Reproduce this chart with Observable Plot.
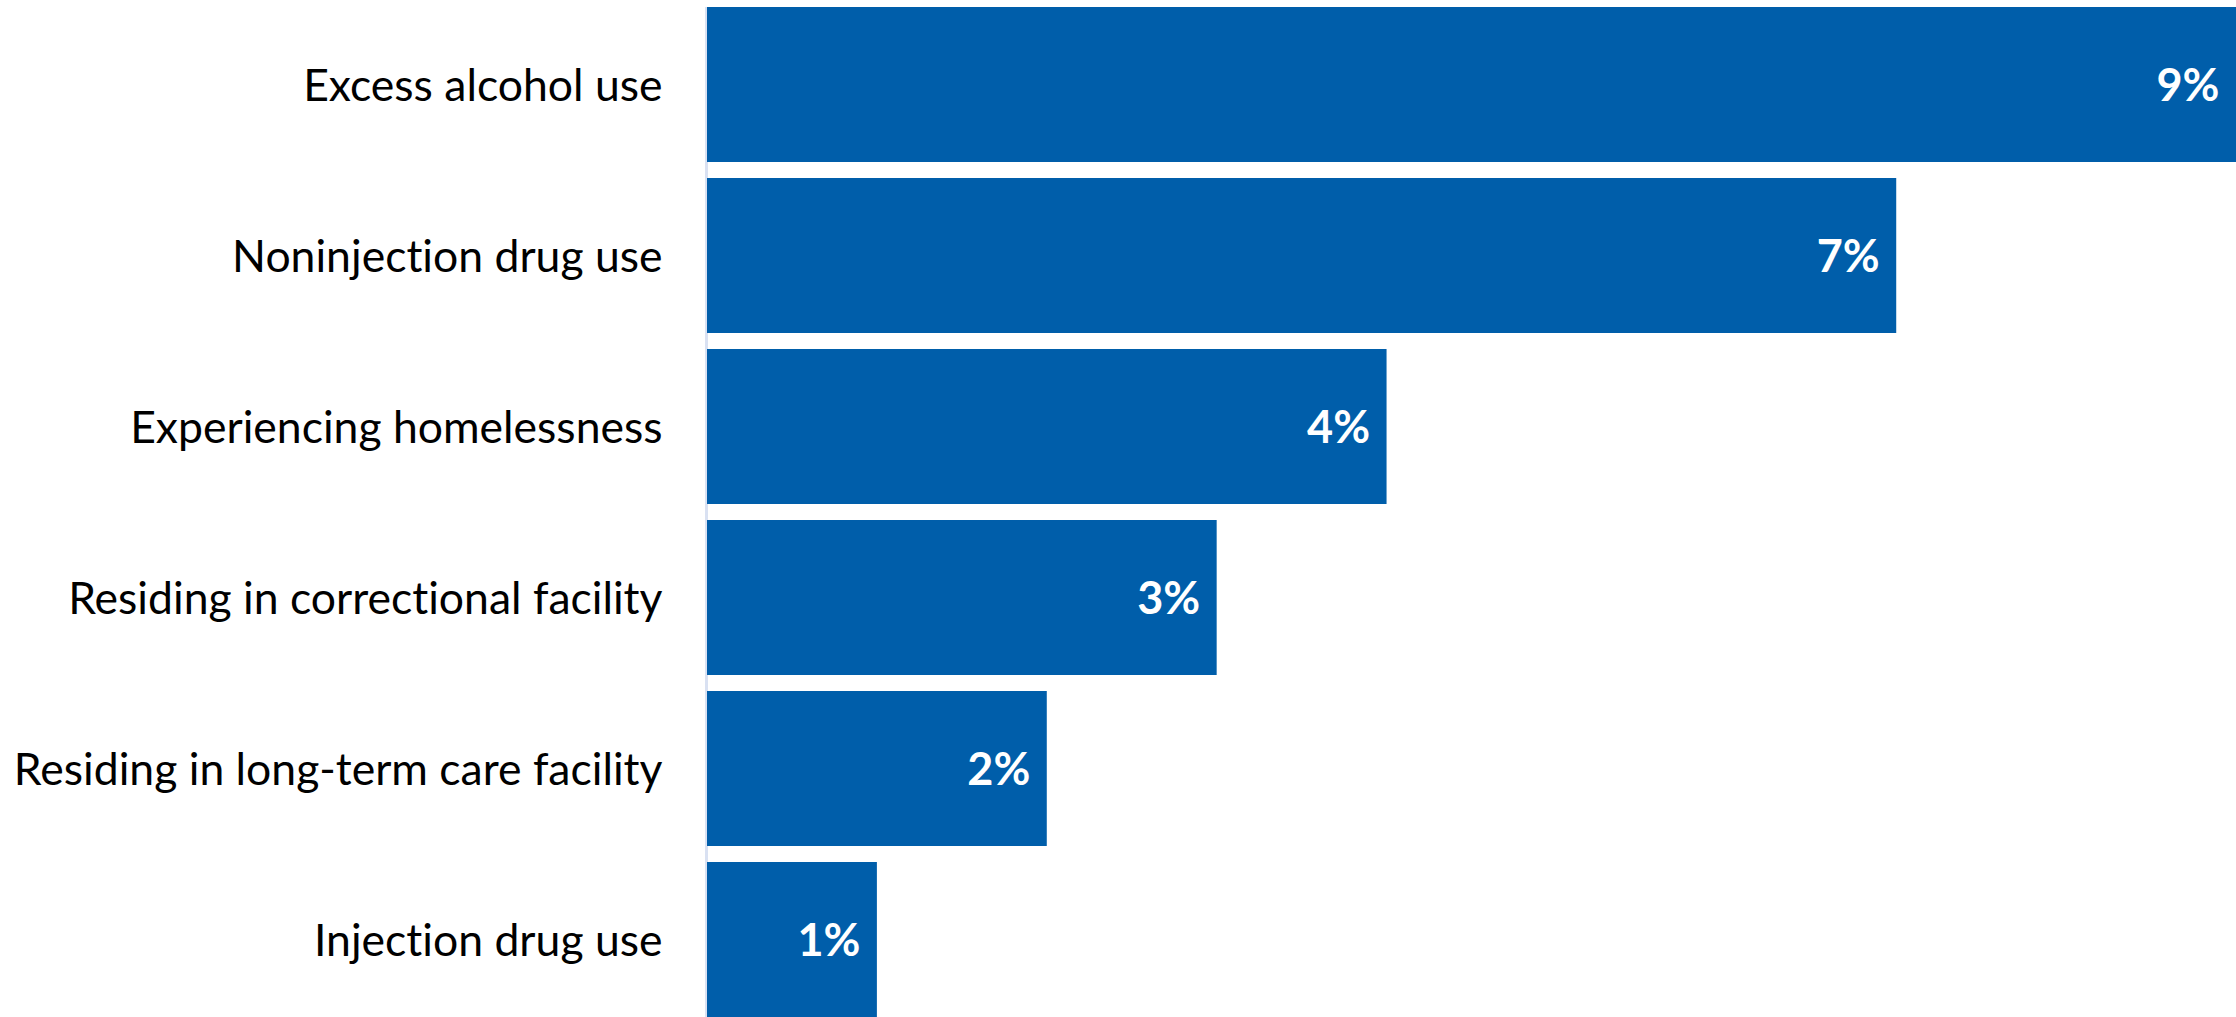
<!DOCTYPE html>
<html>
<head>
<meta charset="utf-8">
<script src="https://cdn.jsdelivr.net/npm/d3@7"></script>
<script src="https://cdn.jsdelivr.net/npm/@observablehq/plot@0.6"></script>
<style>
  html, body { margin: 0; padding: 0; background: #ffffff; }
  svg { display: block; font-variant-ligatures: none; }
  svg text { font-variant-ligatures: none; }
</style>
</head>
<body>
<div id="chart"></div>
<script>
const categories = [
  "Excess alcohol use",
  "Noninjection drug use",
  "Experiencing homelessness",
  "Residing in correctional facility",
  "Residing in long-term care facility",
  "Injection drug use"
];
const values = [9, 7, 4, 3, 2, 1];
const valueLabels = ["9%", "7%", "4%", "3%", "2%", "1%"];

const data = categories.map((c, i) => ({category: c, value: values[i], label: valueLabels[i]}));

const chart = Plot.plot({
  width: 2236,
  height: 1017,
  marginLeft: 707,
  marginRight: 0,
  marginTop: 7,
  marginBottom: 0,
  style: {fontFamily: "Lato, sans-serif", background: "#ffffff", overflow: "hidden"},
  x: {domain: [0, 9], axis: null},
  y: {domain: categories, range: [7, 1018], paddingInner: 0.0935, paddingOuter: 0, align: 0, label: null},
  marks: [
    Plot.ruleX([0], {stroke: "#d9e1f2", strokeWidth: 3, dx: -1}),
    Plot.barX(data, {x: "value", y: "category", fill: "#005eaa"}),
    Plot.axisY({tickSize: 0, tickPadding: 45, fontSize: 44.5, dy: 2, label: null, fill: "#000000"}),
    Plot.text(data, {
      x: "value", y: "category", text: "label",
      textAnchor: "end", dx: -17, dy: 2,
      fill: "#ffffff", fontWeight: "bold", fontSize: 45
    })
  ]
});
document.getElementById("chart").appendChild(chart);
</script>
</body>
</html>
